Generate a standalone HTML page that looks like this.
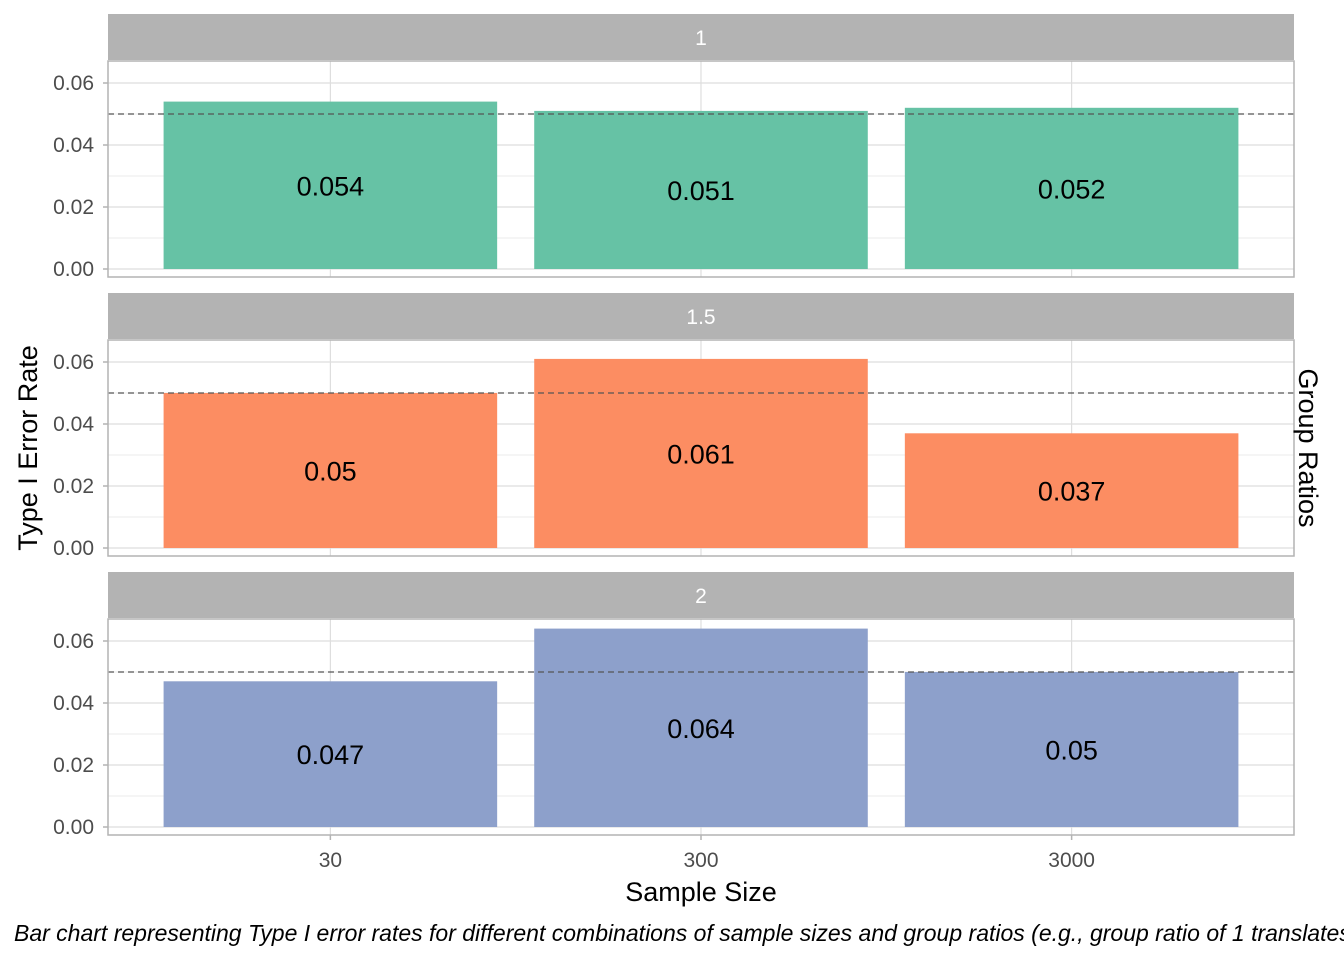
<!DOCTYPE html>
<html><head><meta charset="utf-8"><style>
body{margin:0;background:#fff;width:1344px;height:960px;overflow:hidden}
svg text{font-family:"Liberation Sans",sans-serif}
</style></head><body>
<svg id="c" width="1344" height="960" xmlns="http://www.w3.org/2000/svg"></svg>
<script>
const categories=["30","300","3000"];
const ratios=["1","1.5","2"];
const values1=[0.054,0.051,0.052];
const values15=[0.05,0.061,0.037];
const values2=[0.047,0.064,0.05];
const series=[values1,values15,values2];
const colors=["#66c2a5","#fc8d62","#8da0cb"];
const yTicks=[0,0.02,0.04,0.06];
const yTickLabels=["0.00","0.02","0.04","0.06"];
const refLine=0.05;

const svg=document.getElementById('c');
const NS="http://www.w3.org/2000/svg";
function el(t,a,p){const e=document.createElementNS(NS,t);for(const k in a)e.setAttribute(k,a[k]);(p||svg).appendChild(e);return e;}
const L=108,R=1294,panelTops=[61,340,619],PH=216,stripH=46;
const xStep=(R-L)/3.2;
function x(i){return L+xStep*(0.6+i);}
const bw=xStep*0.9;
ratios.forEach((r,p)=>{
  const top=panelTops[p];
  const zero=top+208;
  const y=v=>zero-v*3100;
  const g=el('g',{});
  
  
  const strip=el('rect',{x:L,y:top-stripH-1,width:R-L,height:stripH,fill:'#b3b3b3'},g);
  
  
  const st=el('text',{x:(L+R)/2,y:top-16,'text-anchor':'middle','font-size':21,fill:'#fff'},g);
  st.textContent=r;
  
  
  for(let v=0.01;v<0.07;v+=0.02){el('line',{x1:L,x2:R,y1:y(v),y2:y(v),stroke:'#ebebeb','stroke-width':1},g);}
  yTicks.forEach((v,i)=>{
    el('line',{x1:L,x2:R,y1:y(v),y2:y(v),stroke:'#dedede','stroke-width':1.2},g);
    el('line',{x1:L-5,x2:L,y1:y(v),y2:y(v),stroke:'#b3b3b3','stroke-width':1.5},g);
    const t=el('text',{x:L-14,y:y(v)+7,'text-anchor':'end','font-size':21,fill:'#4d4d4d'},g);
    t.textContent=yTickLabels[i];
    
    
  });
  categories.forEach((c,i)=>{el('line',{x1:x(i),x2:x(i),y1:top,y2:top+PH,stroke:'#dedede','stroke-width':1.2},g);});
  series[p].forEach((v,i)=>{
    const b=el('rect',{x:x(i)-bw/2,y:y(v),width:bw,height:zero-y(v),fill:colors[p]},g);
    
    
    const t=el('text',{x:x(i),y:(y(v)+zero)/2+10,'text-anchor':'middle','font-size':27,fill:'#000'},g);
    t.textContent=String(v);
    
    
  });
  const d=el('line',{x1:L,x2:R,y1:y(refLine),y2:y(refLine),stroke:'#555','stroke-width':1.3,'stroke-dasharray':'6,4'},g);
  
  
  el('rect',{x:L,y:top,width:R-L,height:PH,fill:'none',stroke:'#b3b3b3','stroke-width':1.5},g);
});
categories.forEach((c,i)=>{
  el('line',{x1:x(i),x2:x(i),y1:835,y2:840,stroke:'#b3b3b3','stroke-width':1.5});
  const t=el('text',{x:x(i),y:867,'text-anchor':'middle','font-size':21,fill:'#4d4d4d'});
  t.textContent=c;
  
  
});
let t=el('text',{x:701,y:901,'text-anchor':'middle','font-size':27,fill:'#000'});t.textContent="Sample Size";


t=el('text',{x:0,y:0,'text-anchor':'middle','font-size':27,fill:'#000',transform:'translate(37,448) rotate(-90)'});t.textContent="Type I Error Rate";


t=el('text',{x:0,y:0,'text-anchor':'middle','font-size':27,fill:'#000',transform:'translate(1299,448) rotate(90)'});t.textContent="Group Ratios";


t=el('text',{x:14,y:941,'font-size':23,'font-style':'italic',fill:'#000'});t.textContent="Bar chart representing Type I error rates for different combinations of sample sizes and group ratios (e.g., group ratio of 1 translates to equal group sizes).";


</script>
</body></html>
